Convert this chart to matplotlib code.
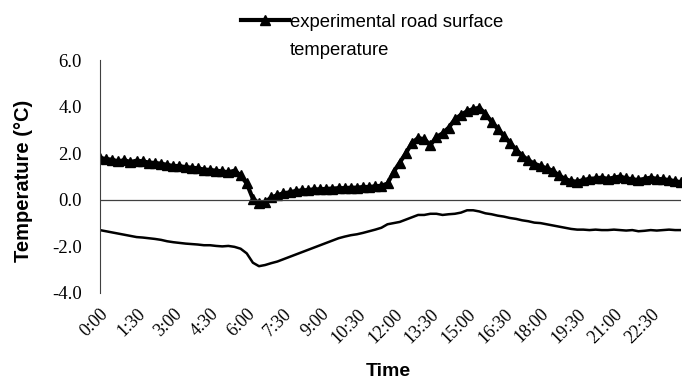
import numpy as np
import matplotlib.pyplot as plt

# 15-minute readings, one row per hour
road_temp = [
    1.80, 1.75, 1.72, 1.65,
    1.70, 1.62, 1.68, 1.65,
    1.60, 1.58, 1.55, 1.50,
    1.45, 1.45, 1.40, 1.38,
    1.35, 1.30, 1.28, 1.25,
    1.22, 1.18, 1.25, 1.05,
    0.70, 0.05, -0.15, -0.10,
    0.10, 0.20, 0.28, 0.32,
    0.38, 0.40, 0.42, 0.45,
    0.45, 0.47, 0.48, 0.50,
    0.50, 0.52, 0.52, 0.55,
    0.55, 0.58, 0.60, 0.70,
    1.20, 1.60, 2.00, 2.45,
    2.65, 2.60, 2.35, 2.70,
    2.85, 3.10, 3.45, 3.65,
    3.80, 3.90, 3.95, 3.70,
    3.35, 3.05, 2.75, 2.45,
    2.15, 1.90, 1.70, 1.55,
    1.45, 1.35, 1.25, 1.05,
    0.90, 0.80, 0.78, 0.85,
    0.90, 0.92, 0.95, 0.90,
    0.95, 1.00, 0.92, 0.88,
    0.85, 0.90, 0.95, 0.90,
    0.88, 0.85, 0.80, 0.75,
]
air_temp = [
    -1.30, -1.35, -1.40, -1.45,
    -1.50, -1.55, -1.60, -1.62,
    -1.65, -1.68, -1.72, -1.78,
    -1.82, -1.85, -1.88, -1.90,
    -1.92, -1.95, -1.95, -1.98,
    -2.00, -1.98, -2.02, -2.10,
    -2.30, -2.70, -2.85, -2.80,
    -2.72, -2.65, -2.55, -2.45,
    -2.35, -2.25, -2.15, -2.05,
    -1.95, -1.85, -1.75, -1.65,
    -1.58, -1.52, -1.48, -1.42,
    -1.35, -1.28, -1.20, -1.05,
    -1.00, -0.95, -0.85, -0.75,
    -0.65, -0.65, -0.60, -0.60,
    -0.65, -0.62, -0.60, -0.55,
    -0.45, -0.45, -0.50, -0.58,
    -0.62, -0.68, -0.72, -0.78,
    -0.82, -0.88, -0.92, -0.98,
    -1.00, -1.05, -1.10, -1.15,
    -1.20, -1.25, -1.28, -1.28,
    -1.30, -1.28, -1.30, -1.30,
    -1.28, -1.30, -1.32, -1.30,
    -1.35, -1.33, -1.30, -1.32,
    -1.30, -1.28, -1.30, -1.30,
]
tick_hours = [0, 1.5, 3, 4.5, 6, 7.5, 9, 10.5, 12, 13.5, 15, 16.5, 18, 19.5, 21, 22.5]
tick_labels = ['0:00', '1:30', '3:00', '4:30', '6:00', '7:30', '9:00', '10:30',
               '12:00', '13:30', '15:00', '16:30', '18:00', '19:30', '21:00', '22:30']

hours = np.arange(len(road_temp)) * 0.25

fig = plt.figure(figsize=(6.84, 3.80), dpi=100)
ax = fig.add_axes([0.146, 0.229, 0.85, 0.613])

ax.plot(hours, road_temp, color='black', lw=3, marker='^', markersize=7,
        label='experimental road surface')
ax.plot(hours, air_temp, color='black', lw=1.8)
ax.axhline(0, color='#404040', lw=0.9)

ax.set_xlim(0, 23.75)
ax.set_ylim(-4, 6)
ax.set_yticks([-4, -2, 0, 2, 4, 6])
ax.set_yticklabels(['-4.0', '-2.0', '0.0', '2.0', '4.0', '6.0'],
                   family='Liberation Serif', fontsize=13.5)
ax.set_xticks(tick_hours)
ax.set_xticklabels(tick_labels, rotation=45, ha='right', rotation_mode='anchor',
                   family='Liberation Serif', fontsize=13)
ax.tick_params(axis='x', length=0, pad=9)
ax.tick_params(axis='y', length=0, pad=13)

for side in ['top', 'right', 'bottom']:
    ax.spines[side].set_visible(False)
ax.spines['left'].set_color('#404040')

fig.text(0.035, 0.524, 'Temperature (°C)', family='Liberation Sans', fontweight='bold',
         fontsize=14.5, rotation=90, ha='center', va='center')
fig.text(0.567, 0.022, 'Time', family='Liberation Sans', fontweight='bold',
         fontsize=14, ha='center', va='center')

leg = fig.legend(loc='upper left', bbox_to_anchor=(0.328, 1.007), frameon=False,
                 handlelength=2.6, handletextpad=0.05,
                 prop={'family': 'Liberation Sans', 'size': 13.3})

# second line of the legend label, lined up under the first
fig.canvas.draw()
x0 = leg.get_texts()[0].get_window_extent().x0 / fig.bbox.width
fig.text(x0, 0.866, 'temperature', family='Liberation Sans', fontsize=13.3,
         ha='left', va='center')

fig.savefig('out.png', dpi=100)
